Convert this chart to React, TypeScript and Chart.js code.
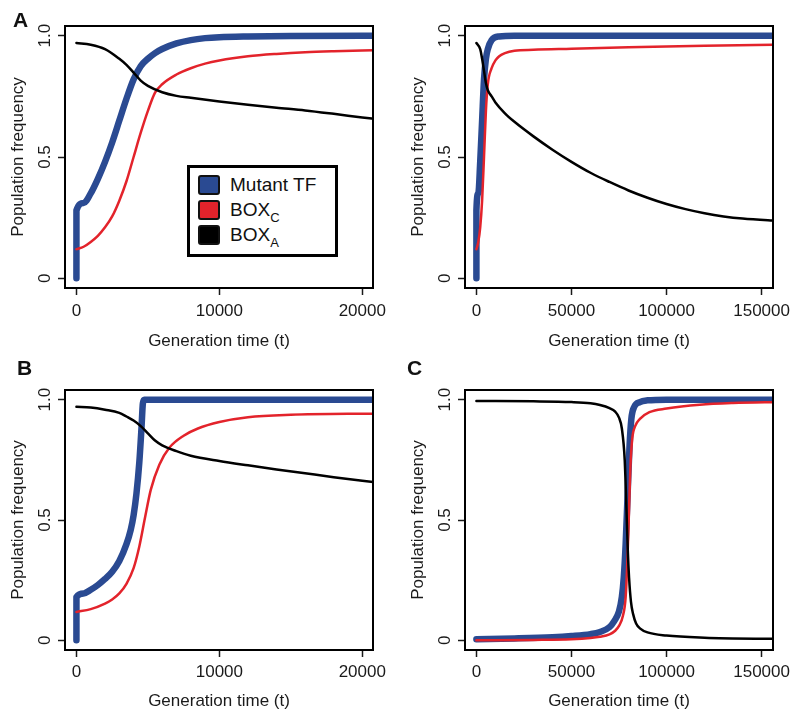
import React, { useEffect, useRef } from "react";
import { Chart, registerables } from "chart.js";

Chart.register(...registerables);

const FONT = "'Liberation Sans', Arial, Helvetica, sans-serif";

// ---- legend / labels ----
const legendMain = ["Mutant TF", "BOX", "BOX"];
const legendSub = ["", "C", "A"];
const seriesColors = ["#2a4a92", "#e3232b", "#000000"];
const xTitle = "Generation time (t)";
const yTitle = "Population frequency";
const yTicks = [0, 0.5, 1];
const yTickLabels = ["0", "0.5", "1.0"];
const xTicksShort = [0, 10000, 20000];
const xTicksLong = [0, 50000, 100000, 150000];

// ---- Panel A, short window ----
const aShortBlueT = [0, 1, 500, 1000, 1500, 2000, 2500, 3000, 3500, 4000, 4500, 5000, 5500, 6000, 7000, 8000, 9000, 10000, 12000, 15000, 20000, 21000];
const aShortBlueV = [0, 0.28, 0.31, 0.35, 0.41, 0.48, 0.56, 0.65, 0.74, 0.82, 0.875, 0.905, 0.928, 0.945, 0.968, 0.982, 0.99, 0.994, 0.997, 0.999, 1.0, 1.0];
const aShortRedT = [0, 500, 1000, 1500, 2000, 2500, 3000, 3500, 4000, 4500, 5000, 5500, 6000, 7000, 8000, 9000, 10000, 12000, 14000, 16000, 18000, 21000];
const aShortRedV = [0.12, 0.13, 0.15, 0.175, 0.21, 0.255, 0.32, 0.4, 0.5, 0.6, 0.69, 0.765, 0.8, 0.84, 0.866, 0.885, 0.898, 0.915, 0.925, 0.932, 0.936, 0.94];
const aShortBlackT = [0, 1000, 2000, 3000, 3500, 4000, 4500, 5000, 6000, 7000, 8000, 10000, 12000, 14000, 16000, 18000, 20000, 21000];
const aShortBlackV = [0.97, 0.963, 0.945, 0.905, 0.88, 0.848, 0.815, 0.793, 0.767, 0.752, 0.744, 0.729, 0.715, 0.703, 0.692, 0.678, 0.663, 0.656];

// ---- Panel A, long window ----
const aLongBlueT = [0, 1, 1000, 2000, 3000, 4000, 5000, 6000, 8000, 12000, 20000, 160000];
const aLongBlueV = [0, 0.28, 0.35, 0.48, 0.65, 0.82, 0.905, 0.945, 0.982, 0.997, 1.0, 1.0];
const aLongRedT = [0, 1000, 2000, 3000, 4000, 5000, 6000, 8000, 10000, 12000, 15000, 20000, 30000, 50000, 80000, 120000, 160000];
const aLongRedV = [0.12, 0.15, 0.21, 0.32, 0.5, 0.69, 0.8, 0.866, 0.898, 0.915, 0.928, 0.938, 0.942, 0.946, 0.952, 0.959, 0.963];
const aLongBlackT = [0, 2000, 3000, 4000, 5000, 6000, 8000, 10000, 15000, 20000, 30000, 40000, 50000, 60000, 70000, 80000, 90000, 100000, 110000, 120000, 130000, 140000, 160000];
const aLongBlackV = [0.97, 0.945, 0.905, 0.855, 0.805, 0.775, 0.75, 0.725, 0.68, 0.645, 0.585, 0.53, 0.48, 0.435, 0.397, 0.362, 0.332, 0.306, 0.285, 0.268, 0.255, 0.246, 0.236];

// ---- Panel B ----
const bBlueT = [0, 1, 500, 1000, 1500, 2000, 2500, 3000, 3500, 3800, 4000, 4200, 4400, 4550, 4650, 4750, 10000, 21000];
const bBlueV = [0, 0.18, 0.195, 0.21, 0.23, 0.255, 0.285, 0.33, 0.4, 0.46, 0.52, 0.61, 0.74, 0.88, 0.985, 1.0, 1.0, 1.0];
const bRedT = [0, 1000, 2000, 2500, 3000, 3500, 4000, 4400, 4800, 5200, 5800, 6500, 7500, 8500, 10000, 12000, 15000, 21000];
const bRedV = [0.118, 0.13, 0.153, 0.17, 0.195, 0.235, 0.3, 0.39, 0.51, 0.625, 0.73, 0.8, 0.85, 0.88, 0.907, 0.927, 0.937, 0.942];
const bBlackT = [0, 1000, 2000, 3000, 3500, 4000, 4500, 5000, 5500, 6000, 7000, 8000, 10000, 12000, 14000, 16000, 18000, 21000];
const bBlackV = [0.97, 0.967, 0.958, 0.945, 0.93, 0.913, 0.89, 0.86, 0.83, 0.81, 0.786, 0.767, 0.745, 0.727, 0.71, 0.694, 0.678, 0.656];

// ---- Panel C ----
const cBlueT = [0, 20000, 40000, 50000, 60000, 65000, 70000, 72500, 75000, 76500, 77500, 78500, 79500, 80500, 81500, 83000, 86000, 90000, 100000, 160000];
const cBlueV = [0.005, 0.008, 0.013, 0.018, 0.026, 0.035, 0.055, 0.08, 0.12, 0.18, 0.26, 0.4, 0.6, 0.8, 0.92, 0.97, 0.99, 0.997, 1.0, 1.0];
const cRedT = [0, 30000, 50000, 60000, 65000, 70000, 73000, 75000, 77000, 78500, 79500, 80300, 81000, 82000, 83500, 86000, 91000, 100000, 117500, 135000, 160000];
const cRedV = [0.0, 0.002, 0.005, 0.01, 0.015, 0.025, 0.04, 0.06, 0.1, 0.18, 0.35, 0.55, 0.72, 0.84, 0.89, 0.92, 0.948, 0.963, 0.979, 0.986, 0.99];
const cBlackT = [0, 30000, 50000, 60000, 65000, 70000, 73000, 75000, 76500, 78000, 78900, 79600, 80300, 81300, 82400, 84000, 86000, 90000, 100000, 120000, 160000];
const cBlackV = [0.994, 0.993, 0.99, 0.985, 0.978, 0.965, 0.95, 0.925, 0.88, 0.75, 0.55, 0.38, 0.26, 0.16, 0.11, 0.07, 0.05, 0.033, 0.02, 0.011, 0.006];

type PanelCfg = {
  left: number;
  top: number;
  areaTop: number;
  areaBottom: number;
  xMin: number;
  xMax: number;
  xTicks: number[];
  xPad: number;
  blue: [number[], number[]];
  red: [number[], number[]];
  black: [number[], number[]];
};

const panels: PanelCfg[] = [
  { left: 0, top: 0, areaTop: 26, areaBottom: 288, xMin: -800, xMax: 20750, xTicks: xTicksShort, xPad: 6,
    blue: [aShortBlueT, aShortBlueV], red: [aShortRedT, aShortRedV], black: [aShortBlackT, aShortBlackV] },
  { left: 400, top: 0, areaTop: 26, areaBottom: 288, xMin: -6000, xMax: 156000, xTicks: xTicksLong, xPad: 6,
    blue: [aLongBlueT, aLongBlueV], red: [aLongRedT, aLongRedV], black: [aLongBlackT, aLongBlackV] },
  { left: 0, top: 360, areaTop: 30, areaBottom: 290, xMin: -800, xMax: 20750, xTicks: xTicksShort, xPad: 5,
    blue: [bBlueT, bBlueV], red: [bRedT, bRedV], black: [bBlackT, bBlackV] },
  { left: 400, top: 360, areaTop: 30, areaBottom: 290, xMin: -6000, xMax: 156000, xTicks: xTicksLong, xPad: 5,
    blue: [cBlueT, cBlueV], red: [cRedT, cRedV], black: [cBlackT, cBlackV] },
];

const toXY = (t: number[], v: number[]) => t.map((x, i) => ({ x, y: v[i] }));

const boxPlugin = {
  id: "rbox",
  afterDraw(chart: any) {
    const { ctx, chartArea: a } = chart;
    ctx.save();
    ctx.strokeStyle = "#000";
    ctx.lineWidth = 2;
    ctx.strokeRect(a.left, a.top, a.right - a.left, a.bottom - a.top);
    ctx.restore();
  },
};

function Panel({ cfg }: { cfg: PanelCfg }) {
  const ref = useRef<HTMLCanvasElement>(null);
  useEffect(() => {
    const font = { family: FONT, size: 17 };
    const chart = new Chart(ref.current as HTMLCanvasElement, {
      type: "line",
      data: {
        datasets: [
          { label: legendMain[2] + legendSub[2], data: toXY(cfg.black[0], cfg.black[1]), borderColor: seriesColors[2], borderWidth: 2.5 },
          { label: legendMain[1] + legendSub[1], data: toXY(cfg.red[0], cfg.red[1]), borderColor: seriesColors[1], borderWidth: 2.5 },
          { label: legendMain[0], data: toXY(cfg.blue[0], cfg.blue[1]), borderColor: seriesColors[0], borderWidth: 6.5 },
        ].map((d) => ({
          ...d,
          pointRadius: 0,
          fill: false,
          cubicInterpolationMode: "monotone" as const,
          borderCapStyle: "round" as const,
          borderJoinStyle: "round" as const,
        })),
      },
      options: {
        animation: false,
        responsive: false,
        maintainAspectRatio: false,
        devicePixelRatio: 1,
        layout: { padding: { left: 0, top: cfg.areaTop, right: 27, bottom: 0 } },
        plugins: { legend: { display: false }, tooltip: { enabled: false } },
        scales: {
          x: {
            type: "linear",
            min: cfg.xMin,
            max: cfg.xMax,
            afterBuildTicks: (s: any) => {
              s.ticks = cfg.xTicks.map((v) => ({ value: v }));
            },
            afterFit: (s: any) => {
              s.height = 360 - cfg.areaBottom;
            },
            ticks: {
              font,
              color: "#1a1a1a",
              padding: cfg.xPad,
              maxRotation: 0,
              minRotation: 0,
              autoSkip: false,
              callback: (v: any) => String(v),
            },
            grid: { drawOnChartArea: false, drawTicks: true, tickLength: 7, tickWidth: 1.5, tickColor: "#1a1a1a" },
            border: { display: false },
            title: { display: true, text: xTitle, font, color: "#1a1a1a", padding: { top: 0, bottom: 8 } },
          },
          y: {
            type: "linear",
            min: -0.04,
            max: 1.04,
            afterBuildTicks: (s: any) => {
              s.ticks = yTicks.map((v) => ({ value: v }));
            },
            afterFit: (s: any) => {
              s.width = 65;
            },
            ticks: {
              font,
              color: "#1a1a1a",
              padding: 1,
              minRotation: 90,
              maxRotation: 90,
              crossAlign: "center",
              autoSkip: false,
              callback: (_v: any, i: number) => yTickLabels[i],
            },
            grid: { drawOnChartArea: false, drawTicks: true, tickLength: 7, tickWidth: 1.5, tickColor: "#1a1a1a" },
            border: { display: false },
            title: { display: true, text: yTitle, font, color: "#1a1a1a", padding: { top: 8, bottom: 0 } },
          },
        },
      },
      plugins: [boxPlugin],
    } as any);
    return () => chart.destroy();
  }, [cfg]);
  return (
    <canvas
      ref={ref}
      width={400}
      height={360}
      style={{ position: "absolute", left: cfg.left, top: cfg.top, width: 400, height: 360 }}
    />
  );
}

const panelLetters = [
  { text: "A", left: 13, top: 10 },
  { text: "B", left: 17, top: 358 },
  { text: "C", left: 407, top: 358 },
];

const legendRowTops = [175, 200, 225];

export default function App() {
  return (
    <div style={{ position: "absolute", left: 0, top: 0, width: 800, height: 721, background: "#fff", overflow: "hidden", fontFamily: FONT }}>
      {panels.map((p, i) => (
        <Panel key={i} cfg={p} />
      ))}
      {panelLetters.map((l) => (
        <div key={l.text} style={{ position: "absolute", left: l.left, top: l.top, fontSize: 21, lineHeight: "20px", fontWeight: "bold", color: "#111" }}>
          {l.text}
        </div>
      ))}
      <div style={{ position: "absolute", left: 187, top: 165, width: 151, height: 92, border: "3px solid #000", boxSizing: "border-box", background: "#fff" }} />
      {legendMain.map((m, i) => (
        <React.Fragment key={i}>
          <div style={{ position: "absolute", left: 198, top: legendRowTops[i], width: 22, height: 20, background: seriesColors[i], border: "2px solid #111", borderRadius: 3, boxSizing: "border-box" }} />
          <div style={{ position: "absolute", left: 230, top: legendRowTops[i], fontSize: 19, lineHeight: "20px", color: "#111", whiteSpace: "nowrap" }}>
            {m}
            {legendSub[i] ? <span style={{ fontSize: 13, position: "relative", top: 6 }}>{legendSub[i]}</span> : null}
          </div>
        </React.Fragment>
      ))}
    </div>
  );
}
